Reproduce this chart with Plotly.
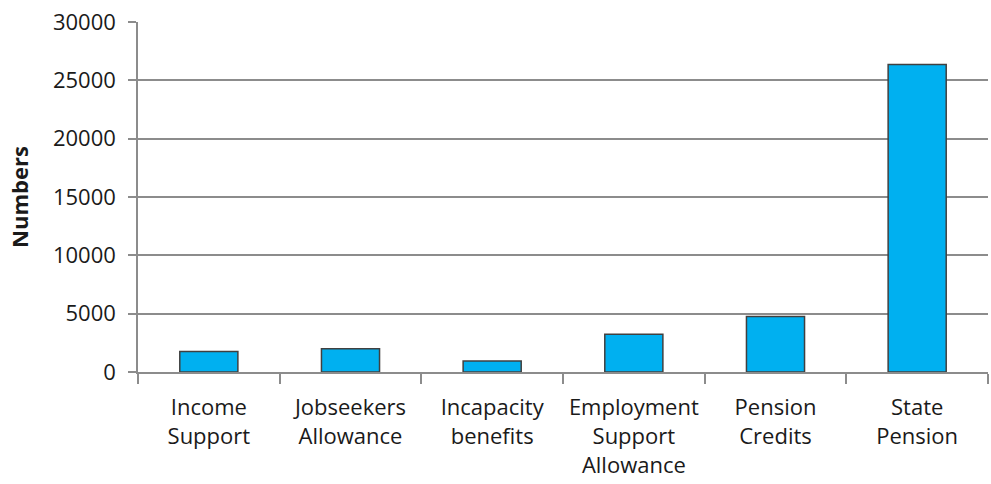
import plotly.graph_objects as go

categories = [
    "Income<br>Support",
    "Jobseekers<br>Allowance",
    "Incapacity<br>benefits",
    "Employment<br>Support<br>Allowance",
    "Pension<br>Credits",
    "State<br>Pension",
]
numbers = [1750, 2000, 950, 3230, 4750, 26350]
y_ticks = [0, 5000, 10000, 15000, 20000, 25000, 30000]

font_family = "Open Sans, Liberation Sans, sans-serif"
axis_grey = "#8c8c8c"

fig = go.Figure(
    go.Bar(
        x=categories,
        y=numbers,
        marker=dict(color="#00B0F0", line=dict(color="#404040", width=1.5)),
        width=0.41,
    )
)

fig.update_layout(
    width=991,
    height=484,
    margin=dict(l=138, r=3, t=22, b=112, autoexpand=False),
    paper_bgcolor="white",
    plot_bgcolor="white",
    showlegend=False,
    font=dict(family=font_family, size=23, color="#1a1a1a"),
)

fig.update_xaxes(
    type="category",
    tickson="boundaries",
    ticks="outside",
    ticklen=10,
    tickwidth=1.5,
    tickcolor=axis_grey,
    showline=True,
    linecolor=axis_grey,
    linewidth=2,
    showgrid=False,
    tickangle=0,
    automargin=False,
    tickfont=dict(size=22),
    ticklabelstandoff=15,
)

fig.update_yaxes(
    range=[0, 30000],
    tickvals=y_ticks,
    ticktext=[str(v) for v in y_ticks],
    ticks="outside",
    ticklen=8,
    tickwidth=1.5,
    tickcolor=axis_grey,
    showline=True,
    linecolor=axis_grey,
    linewidth=1.5,
    showgrid=True,
    gridcolor=axis_grey,
    gridwidth=1.5,
    zeroline=False,
    automargin=False,
    tickfont=dict(size=22),
    ticklabelstandoff=8,
    title=dict(text="<b>Numbers</b>", font=dict(size=22), standoff=18),
)

fig.write_html("out.html")
